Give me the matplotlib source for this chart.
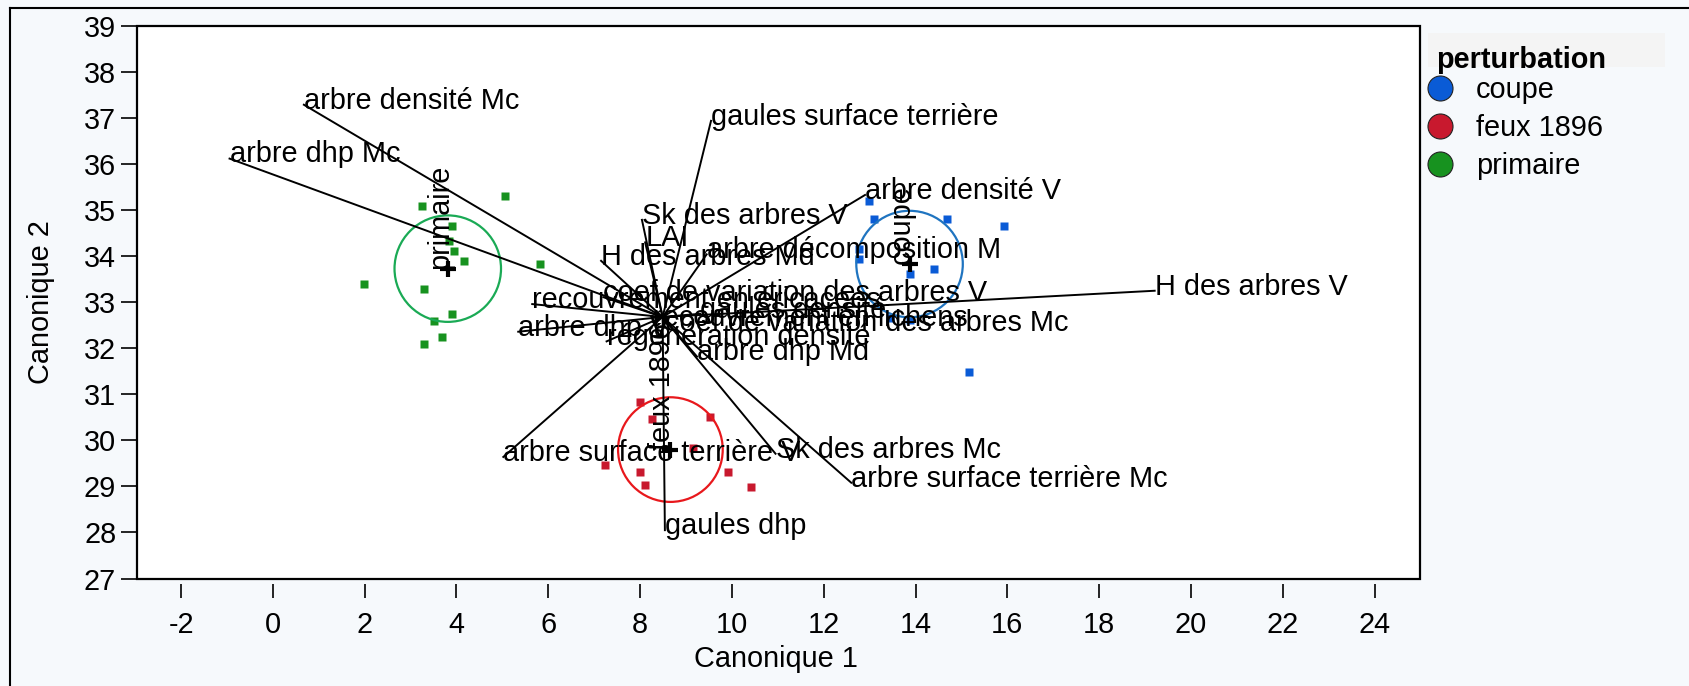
import matplotlib
matplotlib.use('Agg')
import matplotlib.pyplot as plt
from matplotlib.patches import Ellipse, Rectangle
from matplotlib.lines import Line2D

# DATA #
groupes = ['coupe', 'feux 1896', 'primaire']
couleurs_points = ['#0a5bd6', '#c8192e', '#17921f']
couleurs_cercles = ['#1f74c0', '#e8181c', '#1aaa55']

coupe_x = [12.99, 13.10, 14.69, 15.92, 12.77, 12.77, 14.40, 13.89, 13.44, 13.88, 15.16]
coupe_y = [35.20, 34.81, 34.81, 34.65, 34.15, 33.94, 33.73, 33.61, 32.65, 32.61, 31.49]
feux_x = [8.00, 8.27, 9.52, 9.15, 7.24, 8.00, 9.91, 8.11, 10.41]
feux_y = [30.84, 30.46, 30.51, 29.83, 29.46, 29.32, 29.32, 29.03, 28.99]
primaire_x = [3.25, 5.06, 3.90, 3.84, 3.95, 4.17, 5.82, 1.99, 3.29, 3.90, 3.51, 3.69, 3.29]
primaire_y = [35.09, 35.31, 34.66, 34.33, 34.12, 33.90, 33.83, 33.40, 33.29, 32.74, 32.60, 32.24, 32.10]

centre_x = [13.87, 8.66, 3.81]
centre_y = [33.83, 29.80, 33.73]
rayon = [1.16, 1.14, 1.16]

# vecteurs (biplot), tous partent du meme point
origine = (8.49, 32.68)
vect_noms = ['arbre densité Mc', 'arbre dhp Mc', 'gaules surface terrière', 'Sk des arbres V',
             'LAI', 'H des arbres Md', 'arbre décomposition M', 'arbre densité V',
             'coef de variation des arbres V', 'H des arbres V', 'recouvrement en éricacées',
             'gaules densité', 'arbre dhp V', 'recouvrement en lichens',
             'coef de variation des arbres Mc', 'régénération densité', 'arbre dhp Md',
             'arbre surface terrière V', 'Sk des arbres Mc', 'arbre surface terrière Mc',
             'gaules dhp']
vect_x = [0.675, -0.944, 9.545, 8.04, 8.11, 7.15, 9.45, 12.90, 7.20, 19.21, 5.65,
          9.31, 5.345, 8.28, 8.54, 7.27, 9.24, 5.02, 10.95, 12.60, 8.54]
vect_y = [37.29, 36.12, 36.94, 34.79, 34.30, 33.90, 34.04, 35.33, 33.11, 33.25, 32.96,
          32.75, 32.36, 32.57, 32.45, 32.15, 31.82, 29.64, 29.71, 29.08, 28.05]

xticks = list(range(-2, 25, 2))
yticks = list(range(27, 40))

#------ CODE ------ #
plt.rcParams['font.family'] = ['Liberation Sans', 'DejaVu Sans']
plt.rcParams['axes.unicode_minus'] = False
fs = 20.8

W, H = 1689, 686
fig = plt.figure(figsize=(W / 100, H / 100), dpi=100, facecolor='#f6f9fc')
ax = fig.add_axes([137 / W, 1 - 578.5 / H, 1283 / W, 552.5 / H])
ax.set_facecolor('white')
ax.set_xlim(-2.96, 24.99)
ax.set_ylim(27, 39)

# vecteurs
for nom, vx, vy in zip(vect_noms, vect_x, vect_y):
    ax.plot([origine[0], vx], [origine[1], vy], color='black', lw=1.4, zorder=3)
    ax.annotate(nom, (vx, vy), xytext=(0, 3), textcoords='offset points',
                ha='left', va='center', fontsize=fs, zorder=4, annotation_clip=False)

# points par groupe
pts = [(coupe_x, coupe_y), (feux_x, feux_y), (primaire_x, primaire_y)]
for (px, py), col in zip(pts, couleurs_points):
    ax.plot(px, py, 's', ms=5.6, color=col, mec='none', zorder=2)

# cercles, centres et etiquettes de groupe
for i in range(len(groupes)):
    ax.add_patch(Ellipse((centre_x[i], centre_y[i]), 2 * rayon[i], 2 * rayon[i] * 45.9 / 46.05,
                         fill=False, ec=couleurs_cercles[i], lw=1.6, zorder=2))
    ax.plot(centre_x[i], centre_y[i], '+', color='black', ms=11, mew=3, zorder=5)
    ax.text(centre_x[i], centre_y[i], groupes[i], rotation=90, rotation_mode='anchor',
            ha='left', va='baseline', fontsize=fs, zorder=4)

# axes style JMP
for s in ax.spines.values():
    s.set_visible(False)
ax.spines['bottom'].set_position(('outward', 3.6))
ax.add_patch(Rectangle((0, 0), 1, 1, transform=ax.transAxes, fill=False, ec='black',
                       lw=1.6, clip_on=False, zorder=6))
ax.set_xticks(xticks)
ax.set_yticks(yticks)
ax.set_xticklabels([str(t) for t in xticks])
ax.set_yticklabels([str(t) for t in yticks])
ax.tick_params(axis='x', length=10, width=1.2, pad=10, labelsize=fs)
ax.tick_params(axis='y', length=11.5, width=1.2, pad=3.5, labelsize=fs)

fig.text(775.6 / W, 1 - 659 / H, 'Canonique 1', ha='center', va='center', fontsize=fs)
fig.text(41 / W, 1 - 302 / H, 'Canonique 2', ha='center', va='center', fontsize=fs,
         rotation=90)

# legende
fig.add_artist(Rectangle((1428 / W, 1 - 67 / H), 237 / W, 34 / H, transform=fig.transFigure,
                         fc='#f4f4f4', ec='none'))
fig.text(1436 / W, 1 - 60 / H, 'perturbation', ha='left', va='center', fontsize=fs,
         weight='bold')
for i, (nom, col) in enumerate(zip(groupes, couleurs_points)):
    yy = 1 - (88 + 38 * i) / H
    fig.add_artist(Line2D([1440 / W], [yy], marker='o', ms=18, mfc=col, mec='#222222',
                          mew=0.8, transform=fig.transFigure))
    fig.text(1476 / W, yy - 2 / H, nom, ha='left', va='center', fontsize=fs)

# cadre exterieur
fig.add_artist(Line2D([10 / W, 10 / W], [0, 1 - 8 / H], color='black', lw=1.5,
                      transform=fig.transFigure))
fig.add_artist(Line2D([10 / W, 1], [1 - 8 / H, 1 - 8 / H], color='black', lw=1.5,
                      transform=fig.transFigure))

fig.savefig('out.png', dpi=100, facecolor=fig.get_facecolor())
